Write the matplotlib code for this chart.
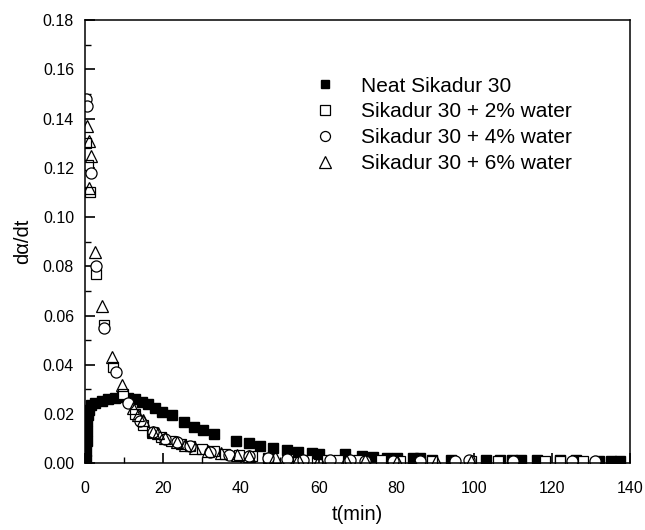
import matplotlib

matplotlib.use("Agg")
import matplotlib.pyplot as plt
from matplotlib.ticker import MultipleLocator, FormatStrFormatter

plt.rcParams["font.family"] = ["Liberation Sans", "DejaVu Sans"]

# Neat Sikadur 30
neat_t = [0.2, 0.3, 0.4, 0.5, 0.6, 0.8, 1.0, 1.5, 2.6, 4.3, 6.0, 7.7, 9.4, 11.0,
          12.8, 14.6, 16.2, 18.0, 19.7, 22.3, 25.4, 28.0, 30.4, 33.2, 38.8, 42.0,
          45.0, 48.3, 51.8, 54.7, 58.2, 60.0, 66.8, 71.0, 74.0, 77.5, 80.0, 84.3,
          86.0, 89.0, 94.0, 103.0, 106.6, 109.6, 112.0, 116.0, 122.0, 126.0,
          132.0, 135.0, 137.5]
neat_y = [0.0012, 0.005, 0.009, 0.013, 0.017, 0.0195, 0.0215, 0.0236, 0.0244,
          0.0253, 0.026, 0.0264, 0.0268, 0.0264, 0.026, 0.0249, 0.024, 0.0223,
          0.0209, 0.0195, 0.0168, 0.0148, 0.0134, 0.0118, 0.0091, 0.0081, 0.0069,
          0.006, 0.0053, 0.0046, 0.004, 0.0037, 0.0036, 0.0028, 0.0026, 0.002,
          0.002, 0.002, 0.002, 0.0015, 0.0015, 0.0015, 0.0015, 0.0015, 0.0015,
          0.0015, 0.0015, 0.0015, 0.001, 0.001, 0.001]

# + 2% water
w2_t = [0.3, 0.8, 1.3, 2.9, 4.9, 7.2, 9.8, 12.9, 14.9, 17.2, 19.5, 22.0, 24.5,
        27.0, 30.0, 33.0, 36.0, 39.5, 42.8, 47.0, 52.0, 57.0, 62.0, 65.0, 70.0,
        76.0, 81.0, 89.0, 99.0, 106.0, 118.0, 122.0, 128.0]
w2_y = [0.130, 0.121, 0.110, 0.077, 0.056, 0.039, 0.028, 0.020, 0.0155, 0.0125,
        0.0105, 0.0090, 0.0080, 0.0068, 0.0058, 0.0048, 0.0038, 0.0032, 0.0028,
        0.0022, 0.0018, 0.0015, 0.0013, 0.0013, 0.0012, 0.0012, 0.0011, 0.001,
        0.001, 0.001, 0.001, 0.001, 0.001]

# + 4% water
w4_t = [0.2, 0.6, 1.4, 2.8, 4.9, 8.0, 11.0, 14.0, 17.5, 20.5, 23.5, 27.0, 32.0,
        37.0, 42.0, 47.0, 51.8, 56.0, 63.0, 68.0, 72.0, 79.0, 86.0, 95.0, 98.5,
        110.0, 125.0, 131.0]
w4_y = [0.148, 0.145, 0.118, 0.080, 0.055, 0.037, 0.0245, 0.017, 0.0127, 0.0100,
        0.0085, 0.0068, 0.0046, 0.0035, 0.0028, 0.0022, 0.0016, 0.0014, 0.0012,
        0.0012, 0.0011, 0.001, 0.001, 0.001, 0.0012, 0.001, 0.001, 0.001]

# + 6% water
w6_t = [0.4, 0.9, 1.1, 1.6, 2.6, 4.4, 6.9, 9.4, 12.4, 13.6, 14.9, 17.5, 18.8,
        20.6, 23.5, 25.7, 28.3, 31.5, 35.0, 39.0, 42.0, 48.8, 54.7, 60.0, 67.0,
        72.0, 80.0, 84.0, 90.0, 99.0]
w6_y = [0.137, 0.131, 0.112, 0.125, 0.0857, 0.064, 0.043, 0.0317, 0.0223, 0.0195,
        0.0175, 0.0127, 0.0122, 0.0102, 0.0087, 0.0073, 0.006, 0.0050, 0.0042,
        0.0033, 0.0028, 0.0024, 0.0016, 0.0014, 0.0013, 0.0012, 0.0011, 0.001,
        0.001, 0.001]

labels = ["Neat Sikadur 30", "Sikadur 30 + 2% water",
          "Sikadur 30 + 4% water", "Sikadur 30 + 6% water"]

fig = plt.figure(figsize=(6.45, 5.30), dpi=100)
ax = fig.add_axes([0.132, 0.126, 0.845, 0.836])

ax.plot(neat_t, neat_y, "s", color="black", markersize=7, linestyle="none",
        label=labels[0])
ax.plot(w2_t, w2_y, "s", mfc="white", mec="black", mew=0.9, markersize=7.5,
        linestyle="none", label=labels[1])
ax.plot(w4_t, w4_y, "o", mfc="white", mec="black", mew=0.9, markersize=8,
        linestyle="none", label=labels[2])
ax.plot(w6_t, w6_y, "^", mfc="none", mec="black", mew=0.9, markersize=9,
        linestyle="none", label=labels[3])

ax.set_xlim(0, 140)
ax.set_ylim(0, 0.18)
ax.xaxis.set_major_locator(MultipleLocator(20))
ax.xaxis.set_minor_locator(MultipleLocator(10))
ax.yaxis.set_major_locator(MultipleLocator(0.02))
ax.yaxis.set_minor_locator(MultipleLocator(0.01))
ax.yaxis.set_major_formatter(FormatStrFormatter("%.2f"))
ax.tick_params(which="both", direction="in", top=False, right=False,
               labelsize=11.5)
ax.tick_params(axis="y", which="major", pad=8)
ax.tick_params(axis="x", which="major", pad=13)
ax.tick_params(which="major", length=7, width=1.2)
ax.tick_params(which="minor", length=4, width=1.0)
for sp in ax.spines.values():
    sp.set_linewidth(1.1)

ax.set_xlabel("t(min)", fontsize=14.5, labelpad=6)
ax.set_ylabel("d\u03b1/dt", fontsize=14.5, labelpad=8)

ax.legend(loc="upper left", bbox_to_anchor=(0.387, 0.915), frameon=False,
          fontsize=15, handlelength=1.0, handletextpad=1.2, labelspacing=0.33,
          markerscale=0.9)

fig.savefig("out.png", dpi=100)
